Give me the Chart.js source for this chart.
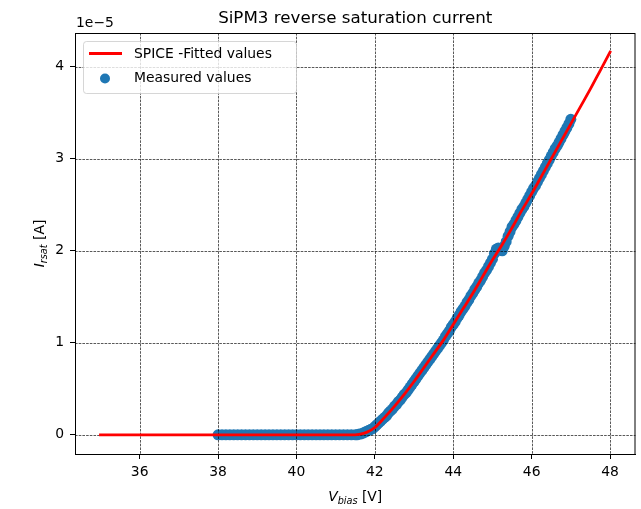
<!DOCTYPE html>
<html>
<head>
<meta charset="utf-8">
<script src="https://cdn.jsdelivr.net/npm/chart.js@4"></script>
<style>
  html, body { margin: 0; padding: 0; background: #fff; }
  canvas { display: block; }
</style>
</head>
<body>
<canvas id="myChart" width="641" height="509"></canvas>
<script>
// currents are in units of 1e-5 A (the "1e-5" offset text)
const fitV = [35, 41.5, 41.6, 41.8, 42.0, 42.25, 42.5, 42.75, 43.0, 43.25, 43.5, 43.75, 44.0, 44.25,
  44.5, 44.75, 45.0, 45.25, 45.5, 45.75, 46.0, 46.25, 46.5, 46.75, 47.0, 47.25, 47.5, 47.75, 48.0];
const fitI = [0, 0, 0.005, 0.03, 0.08, 0.19, 0.31, 0.44, 0.58, 0.73, 0.88, 1.03, 1.2, 1.37,
  1.54, 1.72, 1.9, 2.07, 2.25, 2.44, 2.62, 2.81, 3.0, 3.19, 3.38, 3.57, 3.76, 3.96, 4.16];

// measured sweep: 0.1 V steps below breakdown, 0.05 V above
const measV = [
  38.0, 38.1, 38.2, 38.3, 38.4, 38.5, 38.6, 38.7, 38.8, 38.9,
  39.0, 39.1, 39.2, 39.3, 39.4, 39.5, 39.6, 39.7, 39.8, 39.9,
  40.0, 40.1, 40.2, 40.3, 40.4, 40.5, 40.6, 40.7, 40.8, 40.9,
  41.0, 41.1, 41.2, 41.3, 41.4,
  41.50, 41.55, 41.60, 41.65, 41.70, 41.75, 41.80, 41.85, 41.90, 41.95,
  42.00, 42.05, 42.10, 42.15, 42.20, 42.25, 42.30, 42.35, 42.40, 42.45,
  42.50, 42.55, 42.60, 42.65, 42.70, 42.75, 42.80, 42.85, 42.90, 42.95,
  43.00, 43.05, 43.10, 43.15, 43.20, 43.25, 43.30, 43.35, 43.40, 43.45,
  43.50, 43.55, 43.60, 43.65, 43.70, 43.75, 43.80, 43.85, 43.90, 43.95,
  44.00, 44.05, 44.10, 44.15, 44.20, 44.25, 44.30, 44.35, 44.40, 44.45,
  44.50, 44.55, 44.60, 44.65, 44.70, 44.75, 44.80, 44.85, 44.90, 44.95,
  45.00, 45.05, 45.10, 45.15, 45.20, 45.25, 45.30, 45.35, 45.40, 45.45,
  45.50, 45.55, 45.60, 45.65, 45.70, 45.75, 45.80, 45.85, 45.90, 45.95,
  46.00, 46.05, 46.10, 46.15, 46.20, 46.25, 46.30, 46.35, 46.40, 46.45,
  46.50, 46.55, 46.60, 46.65, 46.70, 46.75, 46.80, 46.85, 46.90, 46.95,
  47.00];
const measI = [
  0, 0, 0, 0, 0, 0, 0, 0, 0, 0,
  0, 0, 0, 0, 0, 0, 0, 0, 0, 0,
  0, 0, 0, 0, 0, 0, 0, 0, 0, 0,
  0, 0, 0, 0, 0,
  0.00, 0.00, 0.01, 0.01, 0.02, 0.03, 0.04, 0.05, 0.06, 0.07,
  0.09, 0.11, 0.13, 0.15, 0.17, 0.19, 0.21, 0.24, 0.26, 0.28,
  0.31, 0.33, 0.36, 0.38, 0.41, 0.44, 0.46, 0.49, 0.52, 0.55,
  0.58, 0.61, 0.64, 0.67, 0.70, 0.73, 0.76, 0.79, 0.82, 0.85,
  0.88, 0.91, 0.94, 0.97, 1.00, 1.03, 1.07, 1.10, 1.13, 1.17,
  1.20, 1.23, 1.27, 1.30, 1.34, 1.37, 1.40, 1.44, 1.47, 1.51,
  1.54, 1.58, 1.61, 1.65, 1.68, 1.72, 1.76, 1.79, 1.83, 1.87,
  1.91, 1.97, 2.02, 2.03, 2.01, 2.00, 2.05, 2.10, 2.16, 2.21,
  2.26, 2.29, 2.33, 2.37, 2.41, 2.45, 2.48, 2.52, 2.56, 2.60,
  2.64, 2.68, 2.71, 2.75, 2.79, 2.83, 2.87, 2.91, 2.95, 2.99,
  3.03, 3.07, 3.11, 3.14, 3.18, 3.22, 3.26, 3.30, 3.34, 3.38,
  3.43];

const xTicks = [36, 38, 40, 42, 44, 46, 48];
const yTicks = [0, 1, 2, 3, 4];

const FONT = 'DejaVu Sans';
const RED = '#ff0000';
const BLUE = '#1f77b4';

function drawRuns(ctx, runs, x, y) {
  // centred text made of several font runs (for the subscripts)
  let w = 0;
  runs.forEach(r => { ctx.font = r.f; w += ctx.measureText(r.t).width; });
  let cx = x - w / 2;
  ctx.textAlign = 'left';
  ctx.textBaseline = 'alphabetic';
  runs.forEach(r => {
    ctx.font = r.f;
    ctx.fillText(r.t, cx, y + (r.dy || 0));
    cx += ctx.measureText(r.t).width;
  });
}

const extras = {
  id: 'extras',
  afterDatasetDraw(chart, args) {
    // grid goes over the scatter but under the fitted line
    if (args.index !== 1) return;
    const {ctx, chartArea: a, scales} = chart;
    ctx.save();
    ctx.strokeStyle = 'rgba(0,0,0,0.65)';
    ctx.lineWidth = 1;
    ctx.setLineDash([2.6, 1.1]);
    xTicks.forEach(v => {
      const px = Math.round(scales.x.getPixelForValue(v)) + 0.5;
      ctx.beginPath(); ctx.moveTo(px, a.top); ctx.lineTo(px, a.bottom); ctx.stroke();
    });
    yTicks.forEach(v => {
      const py = Math.round(scales.y.getPixelForValue(v)) + 0.5;
      ctx.beginPath(); ctx.moveTo(a.left, py); ctx.lineTo(a.right, py); ctx.stroke();
    });
    ctx.restore();
  },
  afterDraw(chart) {
    const {ctx, chartArea: a} = chart;
    ctx.save();
    // full box like matplotlib spines
    ctx.strokeStyle = '#000';
    ctx.lineWidth = 1;
    ctx.strokeRect(a.left + 0.5, a.top + 0.5, a.right - a.left - 1, a.bottom - a.top);

    ctx.fillStyle = '#000';
    ctx.textAlign = 'center';
    ctx.textBaseline = 'alphabetic';
    ctx.font = '16.7px ' + FONT;
    ctx.fillText('SiPM3 reverse saturation current', (a.left + a.right) / 2, 22.5);

    ctx.textAlign = 'left';
    ctx.font = '13.9px ' + FONT;
    ctx.fillText('1e\u22125', a.left + 1, 27);

    drawRuns(ctx, [
      {t: 'V', f: 'italic 13.9px ' + FONT},
      {t: 'bias', f: 'italic 9.7px ' + FONT, dy: 3},
      {t: ' [V]', f: '13.9px ' + FONT}
    ], (a.left + a.right) / 2, 501);

    ctx.save();
    ctx.translate(39, (a.top + a.bottom) / 2);
    ctx.rotate(-Math.PI / 2);
    drawRuns(ctx, [
      {t: 'I', f: 'italic 13.9px ' + FONT},
      {t: 'rsat', f: 'italic 9.7px ' + FONT, dy: 3},
      {t: ' [A]', f: '13.9px ' + FONT}
    ], 0, 5);
    ctx.restore();

    // legend
    const lx = 83.5, ly = 41.5, lw = 213, lh = 52;
    ctx.fillStyle = 'rgba(255,255,255,0.8)';
    ctx.strokeStyle = 'rgba(204,204,204,0.8)';
    ctx.beginPath();
    ctx.roundRect(lx, ly, lw, lh, 3);
    ctx.fill();
    ctx.stroke();

    ctx.strokeStyle = RED;
    ctx.lineWidth = 2.8;
    ctx.beginPath(); ctx.moveTo(89, 53.5); ctx.lineTo(122, 53.5); ctx.stroke();
    ctx.fillStyle = BLUE;
    ctx.beginPath(); ctx.arc(105, 78.5, 5, 0, Math.PI * 2); ctx.fill();

    ctx.fillStyle = '#000';
    ctx.font = '13.9px ' + FONT;
    ctx.textBaseline = 'middle';
    ctx.fillText('SPICE -Fitted values', 134, 54);
    ctx.fillText('Measured values', 134, 78.5);
    ctx.restore();
  }
};

const ctx = document.getElementById('myChart').getContext('2d');
const myChart = new Chart(ctx, {
  type: 'scatter',
  data: {
    datasets: [{
      type: 'line',
      label: 'SPICE -Fitted values',
      data: fitV.map((v, i) => ({x: v, y: fitI[i]})),
      borderColor: RED,
      borderWidth: 2.8,
      borderCapStyle: 'square',
      cubicInterpolationMode: 'monotone',
      pointRadius: 0,
      fill: false
    }, {
      label: 'Measured values',
      data: measV.map((v, i) => ({x: v, y: measI[i]})),
      pointRadius: 5.5,
      pointBorderWidth: 0,
      backgroundColor: BLUE,
      borderColor: BLUE
    }]
  },
  options: {
    responsive: false,
    animation: false,
    devicePixelRatio: 1,
    events: [],
    layout: { padding: { top: 33, right: 1, left: 0, bottom: 0 } },
    plugins: {
      legend: { display: false },
      tooltip: { enabled: false },
      title: { display: false }
    },
    scales: {
      x: {
        type: 'linear',
        min: 34.35,
        max: 48.65,
        afterBuildTicks: s => { s.ticks = xTicks.map(v => ({value: v})); },
        afterFit: s => { s.height = 55; },
        grid: { drawOnChartArea: false, drawTicks: true, tickLength: 5, tickColor: '#000', tickWidth: 1 },
        border: { display: true, color: '#000', width: 1 },
        ticks: { color: '#000', padding: 5, maxRotation: 0, font: { family: FONT, size: 13.9 } }
      },
      y: {
        type: 'linear',
        min: -0.208,
        max: 4.368,
        afterBuildTicks: s => { s.ticks = yTicks.map(v => ({value: v})); },
        afterFit: s => { s.width = 75; },
        grid: { drawOnChartArea: false, drawTicks: true, tickLength: 5, tickColor: '#000', tickWidth: 1 },
        border: { display: true, color: '#000', width: 1 },
        ticks: { color: '#000', padding: 6, font: { family: FONT, size: 13.9 } }
      }
    }
  },
  plugins: [extras]
});
</script>
</body>
</html>
